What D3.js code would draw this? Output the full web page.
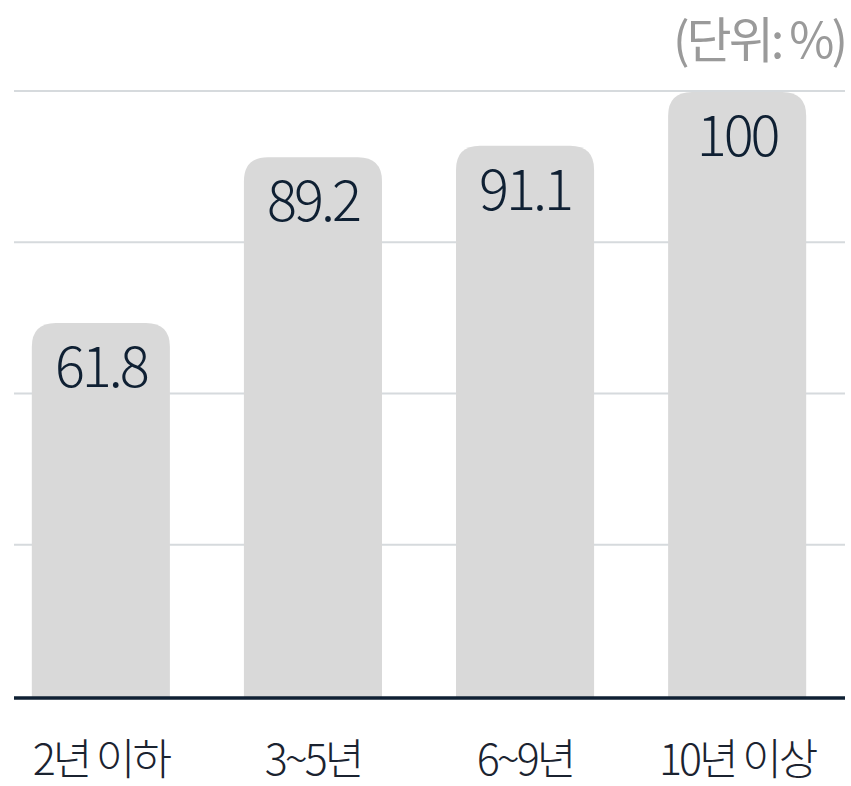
<!DOCTYPE html>
<html>
<head>
<meta charset="utf-8">
<script src="https://cdn.jsdelivr.net/npm/d3@7"></script>
<style>
	body { margin: 0; background: #fff; }
	svg { display: block; }
</style>
</head>
<body>
<div id="chart"></div>
<script>
//=================== DATA ====================================
var categories = ["2년 이하", "3~5년", "6~9년", "10년 이상"];
var values = [61.8, 89.2, 91.1, 100];
var gridTicks = [0, 25, 50, 75, 100];
var unitLabel = "(단위: %)";

//=================== SETTINGS ====================================
var svgWidth = 851;
var svgHeight = 786;
var margin = { left: 14, right: 6, top: 92, bottom: 89 };
var barColour = "#d9d9d9";
var textColour = "#0f2033";
var fontFamily = "'Noto Sans CJK KR', 'Noto Sans', sans-serif";

var dataset = categories.map(function (c, i) { return { key: c, value: values[i] } });

var svg = d3.select("#chart").append("svg")
	.attr("width", svgWidth)
	.attr("height", svgHeight);

var xScale = d3.scaleBand()
	.domain(categories)
	.range([0, 838])
	.paddingInner(0.349)
	.paddingOuter(0.15);

var yScale = d3.scaleLinear()
	.domain([0, 100])
	.range([svgHeight - margin.bottom, margin.top]);

//grid lines
svg.append("g").selectAll("line")
	.data(gridTicks.filter(function (d) { return d > 0 }))
	.enter().append("line")
	.attr("x1", margin.left)
	.attr("x2", svgWidth - margin.right)
	.attr("y1", function (d) { return yScale(d) - 1 })
	.attr("y2", function (d) { return yScale(d) - 1 })
	.style("stroke", "#d6dadd")
	.style("stroke-width", 2);

//bars, rounded on top only
function barPath(d) {
	var x0 = xScale(d.key), w = xScale.bandwidth();
	var y0 = yScale(d.value), y1 = yScale(0);
	var r = 24;
	return "M" + x0 + "," + y1 +
		"V" + (y0 + r) +
		"Q" + x0 + "," + y0 + " " + (x0 + r) + "," + y0 +
		"H" + (x0 + w - r) +
		"Q" + (x0 + w) + "," + y0 + " " + (x0 + w) + "," + (y0 + r) +
		"V" + y1 + "Z";
}

svg.append("g").selectAll("path")
	.data(dataset)
	.enter().append("path")
	.attr("d", barPath)
	.style("fill", barColour);

//value labels inside bars
svg.append("g").selectAll("text")
	.data(dataset)
	.enter().append("text")
	.attr("x", function (d) { return xScale(d.key) + xScale.bandwidth() / 2 })
	.attr("y", function (d) { return yScale(d.value) + 64 })
	.attr("text-anchor", "middle")
	.style("font-family", fontFamily)
	.style("font-size", "56px")
	.style("font-weight", 300)
	.style("letter-spacing", "-3px")
	.style("fill", textColour)
	.text(function (d) { return d.value });

//baseline
svg.append("line")
	.attr("x1", margin.left)
	.attr("x2", svgWidth - margin.right)
	.attr("y1", yScale(0) + 1)
	.attr("y2", yScale(0) + 1)
	.style("stroke", textColour)
	.style("stroke-width", 3.5);

//category labels
var xAxis = d3.axisBottom(xScale).tickSize(0).tickPadding(0);
var axisG = svg.append("g")
	.attr("transform", "translate(0," + 775 + ")")
	.call(xAxis);
axisG.select(".domain").remove();
axisG.selectAll("text")
	.attr("dy", 0)
	.style("font-family", fontFamily)
	.style("font-size", "43px")
	.style("font-weight", 300)
	.style("letter-spacing", "-3px")
	.style("fill", "#1b2330");

//unit label
svg.append("text")
	.attr("x", svgWidth - 6)
	.attr("y", 58)
	.attr("text-anchor", "end")
	.style("font-family", fontFamily)
	.style("font-size", "49px")
	.style("font-weight", 400)
	.style("letter-spacing", "-3px")
	.style("fill", "#9a9a9a")
	.text(unitLabel);
</script>
</body>
</html>
